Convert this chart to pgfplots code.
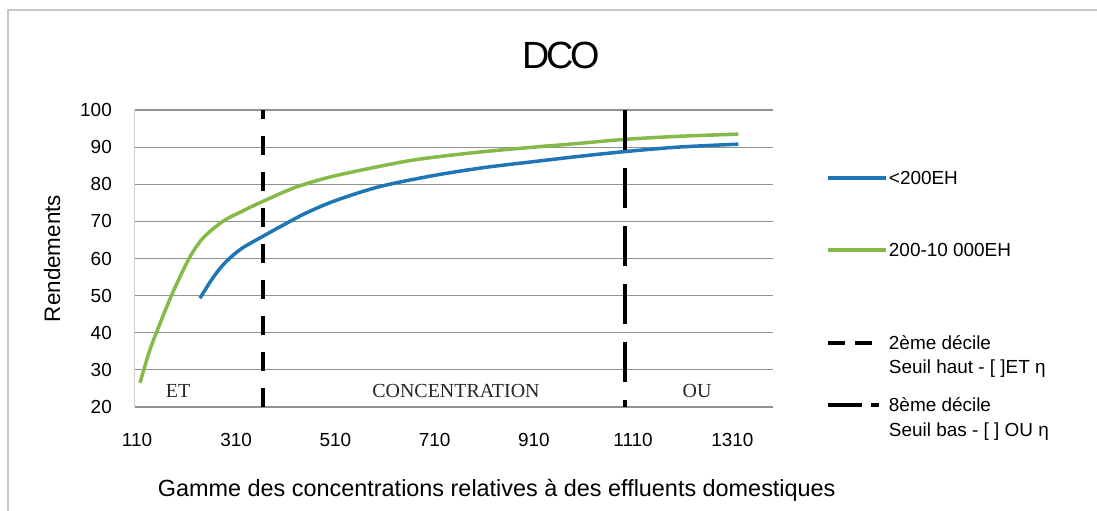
\documentclass[border=0pt]{standalone}
\usepackage{fontspec}
\setmainfont{Liberation Sans}
\newfontfamily\serif{Liberation Serif}
\usepackage{pgfplots}
\pgfplotsset{compat=1.18}
\definecolor{cblue}{RGB}{30,118,182}
\definecolor{cgreen}{RGB}{134,186,72}
\definecolor{cgrid}{RGB}{145,145,145}
\newcommand\st[1]{\rule[-#1]{0pt}{\dimexpr#1+14bp\relax}}
\begin{document}
\begin{tikzpicture}
\path[use as bounding box] (-135bp,-104bp) rectangle (962bp,407bp);
\fill[white] (-135bp,-104bp) rectangle (962bp,407bp);
\draw[gray!45, line width=1.2bp] (-127bp,-104bp) -- (-127bp,397bp) -- (962bp,397bp);
\begin{axis}[
  at={(0,0)}, anchor=south west,
  scale only axis, width=638bp, height=297bp,
  xmin=106, xmax=1392, ymin=20, ymax=100,
  xtick={110,310,510,710,910,1110,1310},
  ytick={20,30,40,50,60,70,80,90,100},
  ymajorgrids, grid style={cgrid, line width=1.2bp},
  axis x line*=bottom, axis y line*=left,
  x axis line style={cgrid, line width=1.2bp, -},
  y axis line style={gray!35, line width=1bp, -},
  major tick length=0pt,
  tick label style={font=\fontsize{19}{22}\selectfont, inner sep=0pt},
  /pgf/number format/assume math mode=true,
  /pgf/number format/1000 sep={},
  xticklabel style={anchor=north}, xticklabel shift=26bp,
  yticklabel style={anchor=east}, yticklabel shift=23bp,
  title={D\kern-3bp C\kern-3bp O},
  title style={at={(axis description cs:0.668,1.165)}, anchor=center, font=\fontsize{38}{40}\selectfont, inner sep=0pt},
  xlabel={Gamme des concentrations relatives à des effluents domestiques},
  xlabel style={at={(axis description cs:0.567,-0.279)}, anchor=center, font=\fontsize{23.5}{26}\selectfont, inner sep=0pt},
  ylabel={Rendements},
  ylabel style={at={(axis description cs:-0.130,0.5)}, anchor=center, font=\fontsize{22.5}{25}\selectfont, inner sep=0pt},
  legend style={at={(axis description cs:1.083,0.796)}, anchor=north west, draw=none, fill=none,
    inner sep=0pt, outer sep=0pt, row sep=0pt, font=\fontsize{19}{22}\selectfont,
    nodes={inner sep=0pt, text depth=, text height=},
    cells={anchor=base west},
    /tikz/every odd column/.append style={column sep=1bp}},
  legend image code/.code={\draw[#1] (0bp,6.5bp) -- (58bp,6.5bp);},
]
\addplot[cgreen, line width=3.5bp, smooth, forget plot] coordinates {
(116,26.5) (135,35) (152,41) (181,50.5) (215,60) (243,65.5) (283,70) (320,72.6) (364,75.4)
(432,79.3) (510,82.3) (640,85.9) (710,87.3) (810,88.8) (910,90) (1000,91) (1094,92.1) (1200,92.9) (1322,93.5)};
\addplot[cblue, line width=3.5bp, smooth, forget plot] coordinates {
(237,49.3) (262,54.6) (287,58.8) (320,62.6) (364,66) (402,68.8) (450,72.2) (510,75.6) (600,79.4)
(710,82.4) (810,84.5) (910,86.1) (1000,87.5) (1094,88.8) (1200,90) (1322,90.8)};
\addplot[black, line width=4bp, dash pattern=on 19bp off 17bp, forget plot] coordinates {(364,20) (364,100)};
\addplot[black, line width=4bp, dash pattern=on 40bp off 18bp, forget plot] coordinates {(1094,100) (1094,20)};
\node[font=\serif\fontsize{20}{22}\selectfont, text=black!85] at (axis cs:193,24.3) {ET};
\node[font=\serif\fontsize{20}{22}\selectfont, text=black!85] at (axis cs:753,24.3) {CONCENTRATION};
\node[font=\serif\fontsize{20}{22}\selectfont, text=black!85] at (axis cs:1239,24.3) {OU};
\addlegendimage{cblue, line width=3.5bp}
\addlegendentry{\st{58bp}<200EH}
\addlegendimage{cgreen, line width=3.5bp}
\addlegendentry{\st{78.5bp}200-10 000EH}
\addlegendimage{black, line width=4bp, dash pattern=on 17bp off 10bp on 17bp off 20bp}
\addlegendentry{\st{10bp}2ème décile}
\addlegendimage{empty legend}
\addlegendentry{\st{24bp}Seuil haut - [ ]ET η}
\addlegendimage{black, line width=4bp, dash pattern=on 34bp off 9bp on 8bp off 20bp}
\addlegendentry{\st{11bp}8ème décile}
\addlegendimage{empty legend}
\addlegendentry{\st{4bp}Seuil bas - [ ] OU η}
\end{axis}
\end{tikzpicture}
\end{document}
